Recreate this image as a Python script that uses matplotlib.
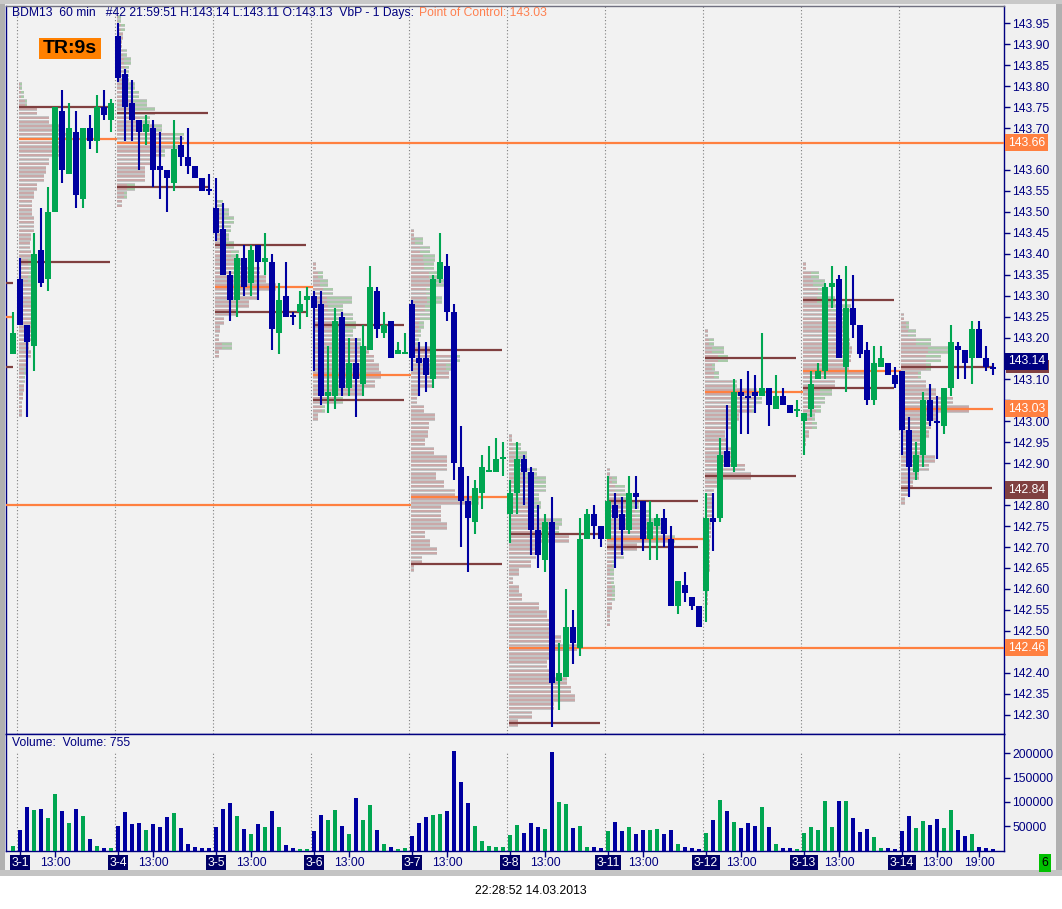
import numpy as np
import matplotlib
matplotlib.use('Agg')
import matplotlib.pyplot as plt
from matplotlib.patches import Rectangle
from matplotlib.transforms import blended_transform_factory

plt.rcParams['font.family'] = ['Liberation Sans', 'DejaVu Sans']

W, H = 1062, 909
NAVY = '#000080'
BLUE = '#0000a0'
GREEN = '#00a651'
ORANGE = '#ff8040'
BROWN = '#804040'

# ---- data ------------------------------------------------------------
days = ['3-1', '3-4', '3-5', '3-6', '3-7', '3-8', '3-11', '3-12', '3-13', '3-14']

# 60 min bars: one bar of the previous session, then 14 bars per day
opens = [143.16,
         143.34, 143.23, 143.18, 143.41, 143.34, 143.50, 143.74, 143.59, 143.69, 143.53, 143.70, 143.67, 143.75, 143.72,
         143.92, 143.83, 143.76, 143.72, 143.69, 143.70, 143.61, 143.60, 143.57, 143.66, 143.63, 143.61, 143.58, 143.555,
         143.51, 143.46, 143.35, 143.29, 143.39, 143.33, 143.42, 143.38, 143.38, 143.21, 143.30, 143.255, 143.26, 143.29,
         143.30, 143.28, 143.06, 143.06, 143.25, 143.08, 143.14, 143.09, 143.17, 143.31, 143.21, 143.24, 143.16, 143.16,
         143.28, 143.15, 143.15, 143.10, 143.34, 143.37, 143.26, 142.89, 142.81, 142.76, 142.83, 142.88, 142.88, 142.91,
         142.78, 142.83, 142.91, 142.88, 142.74, 142.67, 142.76, 142.38, 142.39, 142.51, 142.46, 142.72, 142.78, 142.75,
         142.72, 142.80, 142.78, 142.74, 142.83, 142.81, 142.72, 142.75, 142.77, 142.72, 142.56, 142.61, 142.58, 142.56,
         142.595, 142.77, 142.77, 142.93, 142.89, 143.07, 143.06, 143.07, 143.06, 143.08, 143.03, 143.06, 143.04, 143.025,
         143.00, 143.03, 143.10, 143.12, 143.32, 143.34, 143.13, 143.27, 143.23, 143.17, 143.05, 143.13, 143.14, 143.11,
         143.12, 142.98, 142.88, 142.92, 143.05, 143.00, 142.99, 143.08, 143.18, 143.17, 143.15, 143.22, 143.15, 143.13]
highs = [143.26,
         143.39, 143.23, 143.45, 143.51, 143.56, 143.75, 143.79, 143.76, 143.74, 143.70, 143.73, 143.78, 143.79, 143.77,
         143.95, 143.84, 143.815, 143.72, 143.73, 143.72, 143.69, 143.60, 143.72, 143.68, 143.70, 143.61, 143.58, 143.59,
         143.58, 143.52, 143.36, 143.40, 143.42, 143.42, 143.42, 143.45, 143.40, 143.33, 143.38, 143.26, 143.31, 143.32,
         143.31, 143.31, 143.18, 143.27, 143.26, 143.20, 143.20, 143.23, 143.37, 143.32, 143.26, 143.24, 143.19, 143.21,
         143.29, 143.19, 143.19, 143.35, 143.45, 143.40, 143.28, 142.99, 142.87, 142.86, 142.92, 142.94, 142.96, 142.95,
         142.86, 142.95, 142.92, 142.89, 142.80, 142.78, 142.82, 142.47, 142.60, 142.55, 142.77, 142.79, 142.80, 142.75,
         142.87, 142.83, 142.82, 142.87, 142.87, 142.81, 142.81, 142.78, 142.79, 142.75, 142.62, 142.64, 142.58, 142.56,
         142.83, 142.83, 142.96, 143.04, 143.10, 143.10, 143.12, 143.11, 143.21, 143.08, 143.11, 143.08, 143.04, 143.05,
         143.02, 143.12, 143.14, 143.33, 143.37, 143.35, 143.37, 143.35, 143.23, 143.19, 143.18, 143.18, 143.14, 143.13,
         143.12, 143.01, 142.95, 143.07, 143.09, 143.06, 143.08, 143.23, 143.19, 143.17, 143.24, 143.24, 143.18, 143.14]
lows = [143.16,
        143.23, 143.01, 143.12, 143.32, 143.31, 143.50, 143.57, 143.59, 143.51, 143.51, 143.65, 143.64, 143.72, 143.69,
        143.81, 143.67, 143.67, 143.60, 143.66, 143.56, 143.53, 143.50, 143.55, 143.61, 143.59, 143.58, 143.55, 143.54,
        143.43, 143.35, 143.24, 143.25, 143.30, 143.30, 143.29, 143.35, 143.17, 143.16, 143.25, 143.23, 143.22, 143.25,
        143.12, 143.04, 143.02, 143.03, 143.06, 143.06, 143.01, 143.06, 143.17, 143.20, 143.20, 143.15, 143.16, 143.16,
        143.12, 143.06, 143.07, 143.08, 143.33, 143.24, 142.86, 142.70, 142.64, 142.73, 142.79, 142.88, 142.88, 142.87,
        142.71, 142.78, 142.80, 142.68, 142.65, 142.64, 142.27, 142.31, 142.39, 142.42, 142.44, 142.72, 142.72, 142.70,
        142.72, 142.65, 142.68, 142.73, 142.79, 142.69, 142.67, 142.67, 142.70, 142.56, 142.54, 142.57, 142.55, 142.51,
        142.52, 142.69, 142.76, 142.89, 142.88, 142.97, 142.97, 143.02, 143.06, 142.99, 143.03, 143.04, 143.02, 143.01,
        142.92, 143.01, 143.10, 143.10, 143.27, 143.15, 143.07, 143.20, 143.15, 143.04, 143.04, 143.13, 143.11, 143.08,
        142.92, 142.82, 142.86, 142.89, 142.99, 142.91, 142.97, 143.06, 143.10, 143.10, 143.09, 143.15, 143.12, 143.11]
closes = [143.21,
          143.23, 143.19, 143.40, 143.33, 143.50, 143.75, 143.60, 143.70, 143.54, 143.70, 143.67, 143.75, 143.73, 143.76,
          143.82, 143.75, 143.72, 143.69, 143.71, 143.60, 143.60, 143.58, 143.65, 143.63, 143.61, 143.58, 143.55, 143.55,
          143.45, 143.35, 143.29, 143.39, 143.32, 143.41, 143.38, 143.39, 143.22, 143.29, 143.25, 143.25, 143.28, 143.30,
          143.27, 143.06, 143.07, 143.24, 143.08, 143.14, 143.10, 143.18, 143.32, 143.22, 143.23, 143.15, 143.17, 143.165,
          143.15, 143.14, 143.11, 143.34, 143.38, 143.26, 142.90, 142.81, 142.77, 142.84, 142.89, 142.885, 142.91, 142.915,
          142.83, 142.91, 142.88, 142.74, 142.68, 142.76, 142.375, 142.40, 142.51, 142.47, 142.72, 142.78, 142.75, 142.72,
          142.81, 142.77, 142.74, 142.83, 142.82, 142.72, 142.76, 142.77, 142.73, 142.56, 142.62, 142.59, 142.56, 142.51,
          142.77, 142.76, 142.92, 142.89, 143.07, 143.06, 143.055, 143.06, 143.08, 143.04, 143.06, 143.04, 143.02, 143.03,
          143.02, 143.09, 143.12, 143.32, 143.33, 143.15, 143.27, 143.23, 143.16, 143.05, 143.14, 143.15, 143.11, 143.09,
          142.98, 142.89, 142.92, 143.05, 143.00, 142.995, 143.08, 143.19, 143.17, 143.14, 143.22, 143.15, 143.13, 143.125]
volumes = [10000,
           41800, 88600, 84400, 86500, 67400, 116300, 82200, 56700, 86500, 71600, 22700, 9900, 5700, 5700,
           50300, 80100, 54600, 56700, 41800, 54600, 48200, 69500, 78000, 46100, 14200, 7800, 5700, 5700,
           48200, 86500, 97100, 71600, 44000, 33300, 54600, 48200, 82200, 48200, 12100, 5700, 3500, 3500,
           39700, 73700, 63100, 84400, 50300, 33300, 107800, 63100, 92900, 41800, 14200, 7800, 3500, 5700,
           29100, 56700, 69500, 73700, 75900, 82200, 205600, 141800, 97100, 50300, 20600, 9900, 7800, 7800,
           31200, 52500, 35500, 56700, 48200, 44000, 203500, 99300, 95000, 46100, 50300, 7800, 7800, 5700,
           39700, 58800, 39700, 48200, 33300, 41800, 41800, 44000, 33300, 41800, 14200, 7800, 5700, 3500,
           35500, 63100, 103500, 82200, 58800, 46100, 56700, 50300, 88600, 48200, 14200, 5700, 5700, 3500,
           35500, 48200, 41800, 101400, 48200, 101400, 101400, 67400, 37600, 44000, 26900, 5700, 5700, 3500,
           39700, 71600, 46100, 61000, 52500, 65200, 46100, 84400, 41800, 29100, 33300, 7800, 5700, 3500]

# volume at price per day (0.02 bins from the top price down), total and up part
vp_top = [143.80, 143.96, 143.52, 143.37, 143.45, 142.96, 142.88, 143.21, 143.37, 143.25]
vp_total = [
    [3, 5, 8, 18, 30, 40, 50, 46, 40, 30, 27, 25, 18, 15, 13, 13, 15, 15, 12, 11,
     12, 15, 16, 14, 17, 15, 13, 14, 17, 13, 12, 10, 12, 8, 7, 6, 5, 4, 3, 3],
    [4, 8, 6, 5, 10, 14, 12, 12, 18, 22, 30, 38, 33, 45, 67, 62, 48, 35, 28, 28, 18, 10, 5],
    [8, 14, 19, 16, 14, 19, 24, 30, 45, 51, 61, 44, 34, 21, 9, 5, 4, 17, 4],
    [3, 10, 15, 20, 39, 30, 40, 43, 40, 48, 56, 61, 66, 68, 62, 50, 30, 12, 5],
    [3, 12, 19, 24, 23, 30, 39, 25, 31, 22, 19, 13, 10, 8, 24, 49, 40, 38, 22, 8,
     6, 13, 24, 18, 17, 14, 23, 36, 36, 25, 33, 44, 68, 30, 30, 36, 14, 19, 26, 11, 3],
    [3, 12, 18, 17, 28, 37, 37, 30, 32, 30, 53, 50, 60, 30, 27, 22, 10, 4, 10, 13,
     30, 38, 43, 46, 52, 68, 40, 38, 46, 58, 62, 66, 45, 23, 9],
    [3, 10, 18, 25, 32, 43, 55, 60, 68, 30, 17, 8, 7, 7, 8, 8, 5, 3, 3],
    [3, 9, 19, 23, 10, 14, 32, 52, 57, 50, 34, 27, 20, 22, 26, 32, 40, 46, 12, 9,
     8, 8, 7, 6, 6, 5, 5, 5, 5, 4, 4, 3, 3, 2],
    [3, 16, 22, 25, 32, 48, 45, 42, 45, 47, 49, 48, 46, 65, 32, 29, 22, 18, 12, 14, 6, 3, 2],
    [3, 8, 15, 30, 52, 40, 30, 20, 25, 35, 52, 68, 36, 30, 28, 22, 24, 34, 28, 18, 12, 8, 4],
]
vp_up = [
    [2, 3, 2, 0, 0, 0, 0, 0, 0, 0, 0, 0, 0, 0, 0, 0, 0, 0, 0, 0,
     0, 6, 6, 5, 5, 4, 0, 0, 0, 0, 0, 0, 0, 0, 2, 2, 0, 0, 0, 0],
    [3, 4, 0, 0, 4, 7, 4, 5, 12, 14, 16, 20, 10, 8, 10, 6, 3, 0, 0, 0, 8, 3, 0],
    [5, 8, 12, 8, 6, 10, 8, 5, 0, 0, 0, 0, 0, 0, 0, 0, 0, 10, 0],
    [0, 5, 8, 10, 25, 15, 20, 18, 10, 5, 0, 0, 0, 0, 0, 0, 8, 3, 0],
    [0, 8, 10, 12, 10, 12, 20, 10, 15, 8, 10, 5, 3, 3, 5, 10, 5, 0, 0, 0,
     0, 0, 0, 0, 0, 0, 0, 0, 0, 0, 0, 0, 0, 0, 0, 0, 0, 0, 0, 0, 0],
    [0, 8, 12, 10, 15, 20, 18, 10, 12, 8, 10, 5, 0, 0, 0, 0, 0, 0, 0, 0,
     0, 0, 0, 0, 0, 0, 0, 0, 0, 0, 0, 0, 0, 0, 0],
    [0, 5, 10, 12, 12, 15, 12, 8, 5, 0, 3, 3, 4, 3, 3, 3, 0, 0, 0],
    [0, 5, 12, 10, 3, 5, 5, 5, 8, 3, 0, 0, 0, 0, 0, 0, 0, 0, 0, 0,
     0, 0, 0, 0, 0, 0, 0, 0, 0, 0, 0, 0, 0, 0],
    [0, 8, 12, 10, 18, 20, 12, 8, 5, 0, 0, 0, 0, 0, 0, 12, 10, 5, 3, 5, 0, 0, 0],
    [0, 3, 8, 15, 25, 15, 5, 3, 0, 0, 0, 0, 0, 0, 0, 0, 0, 0, 0, 0, 0, 0, 0],
]

vah = [143.75, 143.735, 143.42, 143.23, 143.17, 142.73, 142.81, 143.15, 143.29, 143.13]
val = [143.38, 143.56, 143.26, 143.05, 142.66, 142.28, 142.70, 142.87, 143.08, 142.84]
poc = [143.675, 143.665, 143.32, 143.11, 142.82, 142.46, 142.72, 143.07, 143.12, 143.03]
naked = [False, True, False, False, False, True, False, False, False, False]

prev_lines = [(143.33, BROWN), (143.25, ORANGE), (143.13, BROWN)]
old_poc = 142.80

price_ticks = np.round(np.arange(142.30, 143.951, 0.05), 2)
hidden_ticks = [143.65, 143.15, 143.05, 142.85, 142.45]   # covered by the value boxes
vol_ticks = [50000, 100000, 150000, 200000]

# ---- figure ----------------------------------------------------------
def fx(px):
    return px / W

def fy(py):
    return 1 - py / H

fig = plt.figure(figsize=(W / 100, H / 100), dpi=100)
fig.patch.set_facecolor('white')

# window background and frame
for (x0, y0, x1, y1, c) in [(0, 0, 1062, 872, '#f0f0f0'), (0, 0, 5, 872, '#b0b0b0'),
                            (1056, 0, 1062, 872, '#b0b0b0'), (0, 0, 1062, 4, '#c8c8c8'),
                            (0, 870, 1062, 876, '#c4c4c4')]:
    fig.add_artist(Rectangle((fx(x0), fy(y1)), fx(x1) - fx(x0), fy(y0) - fy(y1),
                             transform=fig.transFigure, facecolor=c, edgecolor='none', zorder=-10))

ax = fig.add_axes([fx(6), fy(734), fx(1004) - fx(6), fy(6) - fy(734)])
axv = fig.add_axes([fx(6), fy(850.5), fx(1004) - fx(6), fy(734) - fy(850.5)])

xlim = (-1, 141.57)
for a in (ax, axv):
    a.set_facecolor('#f2f2f2')
    a.set_xlim(*xlim)
    for s in a.spines.values():
        s.set_color(NAVY)
        s.set_linewidth(1.0)
ax.spines['top'].set_color('#707080')
ax.set_ylim(142.2538, 143.9913)
axv.set_ylim(0, 240000)

n = len(opens)
x = np.arange(n)
o = np.array(opens); c = np.array(closes)
hi = np.array(highs); lo = np.array(lows)
cols = [GREEN if cc > oo else BLUE for oo, cc in zip(o, c)]

# day separators
bounds = [14 * d + 0.5 for d in range(len(days))]
for b in bounds:
    ax.axvline(b, color='#808080', ls=(0, (1, 2)), lw=0.8, zorder=0.5)
    axv.axvline(b, ymax=0.854, color='#808080', ls=(0, (1, 2)), lw=0.8, zorder=0.5)

# volume profiles
for d in range(len(days)):
    x0 = 14 * d + 0.86
    tot = np.array(vp_total[d], dtype=float)
    upv = np.array(vp_up[d], dtype=float)
    pr = vp_top[d] - 0.02 * np.arange(len(tot))
    for off in (0.005, -0.005):
        yy = pr + off
        ax.barh(yy, tot / 7, left=x0, height=0.0085, color='#c4c4c4', lw=0, zorder=1)
        ax.barh(yy, (tot - upv) / 7, left=x0, height=0.0045, color='#c9a8a8', lw=0, zorder=1.1)
        ax.barh(yy, upv / 7, left=x0 + (tot - upv) / 7, height=0.0045, color='#a8caa8', lw=0, zorder=1.1)

# poc / value area lines
for d in range(len(days)):
    x0 = 14 * d + 0.86
    x_end = min(x0 + 13, n - 1)
    ax.hlines([vah[d], val[d]], x0, x_end, color=BROWN, lw=1.6, zorder=3)
    if naked[d]:
        pe = xlim[1]
    elif d == len(days) - 1:
        pe = n - 1
    else:
        pe = x0 + 14
    ax.hlines(poc[d], x0, pe, color=ORANGE, lw=1.6, zorder=3)
for p, col in prev_lines:
    ax.hlines(p, xlim[0], 0.0, color=col, lw=1.6, zorder=3)
ax.hlines(old_poc, xlim[0], 14 * 4 + 0.86, color=ORANGE, lw=1.6, zorder=3)

# candles
ax.vlines(x, lo, hi, colors=cols, lw=1.5, zorder=5)
body_lo = np.minimum(o, c)
body_h = np.maximum(np.abs(c - o), 0.0025)
ax.bar(x, body_h, bottom=body_lo, width=0.72, color=cols, lw=0, zorder=6)

# volume bars
axv.bar(x, volumes, width=0.5, color=cols, lw=0, zorder=4)

# axes ticks
ax.yaxis.tick_right()
ax.set_yticks(price_ticks)
ax.set_yticklabels(['' if p in hidden_ticks else f'{p:.2f}' for p in price_ticks])
ax.set_xticks([])
ax.tick_params(axis='y', direction='out', length=4, width=1, color=NAVY,
               labelcolor=NAVY, labelsize=8.7, pad=2)

axv.yaxis.tick_right()
axv.set_yticks(vol_ticks)
axv.set_yticklabels([str(v) for v in vol_ticks])
axv.tick_params(axis='y', direction='out', length=4, width=1, color=NAVY,
                labelcolor=NAVY, labelsize=8.7, pad=2)

date_pos = [14 * d + 1 for d in range(len(days))]
hour_pos = [14 * d + 6 for d in range(len(days))] + [14 * 9 + 12]
axv.set_xticks(date_pos + hour_pos)
axv.tick_params(axis='x', direction='out', length=4, width=1, color=NAVY, labelbottom=False)

tb = blended_transform_factory(axv.transData, fig.transFigure)
for pos, lab in zip(date_pos, days):
    axv.text(pos, fy(862.5), lab, transform=tb, ha='center', va='center', color='white',
             fontsize=8.7, clip_on=False,
             bbox=dict(boxstyle='square,pad=0.12', fc='#000066', ec='none'))
hour_labels = ['13:00'] * len(days) + ['19:00']
for pos, lab in zip(hour_pos, hour_labels):
    axv.text(pos, fy(862.5), lab, transform=tb, ha='center', va='center', color=NAVY,
             fontsize=8.7, clip_on=False)

# price labels on the right axis
tr = blended_transform_factory(ax.transAxes, ax.transData)
# brown box of the 3-14 value-area high, mostly hidden by the last price box
ax.add_patch(Rectangle((1 + 2.0 / 998, vah[-1] - 0.0155), 43.0 / 998, 0.031, transform=tr,
                       facecolor=BROWN, edgecolor='none', clip_on=False, zorder=9))
for p, txt, col in [(143.665, '143.66', ORANGE), (142.46, '142.46', ORANGE),
                    (143.03, '143.03', ORANGE), (142.836, '142.84', BROWN),
                    (143.143, '143.14', NAVY)]:
    ax.text(1 + 4.0 / 998, p, txt, transform=tr, ha='left', va='center', color='white',
            fontsize=8.7, clip_on=False, zorder=10,
            bbox=dict(boxstyle='square,pad=0.22', fc=col, ec='none'))

# header texts
fig.text(fx(12), fy(13), 'BDM13  60 min   #42 21:59:51 H:143.14 L:143.11 O:143.13  VbP - 1 Days:',
         ha='left', va='center', color=NAVY, fontsize=8.7)
fig.text(fx(419), fy(13), 'Point of Control: 143.03', ha='left', va='center',
         color='#ff8050', fontsize=8.7)
fig.add_artist(Rectangle((fx(39), fy(59)), fx(101) - fx(39), fy(38) - fy(59),
                         transform=fig.transFigure, facecolor='#ff8000', edgecolor='none', zorder=5))
fig.text(fx(70), fy(48.5), 'TR:9s', ha='center', va='center', color='black',
         fontsize=14, fontweight='bold', zorder=6)
fig.text(fx(12), fy(743), 'Volume:  Volume: 755', ha='left', va='center', color=NAVY, fontsize=8.7)

fig.text(fx(1045), fy(863), '6', ha='center', va='center', color='black', fontsize=8.7,
         bbox=dict(boxstyle='square,pad=0.25', fc='#00c000', ec='none'))
fig.text(fx(531), fy(891), '22:28:52 14.03.2013', ha='center', va='center', color='black', fontsize=8.7)

fig.savefig('out.png', dpi=100, facecolor=fig.get_facecolor())
